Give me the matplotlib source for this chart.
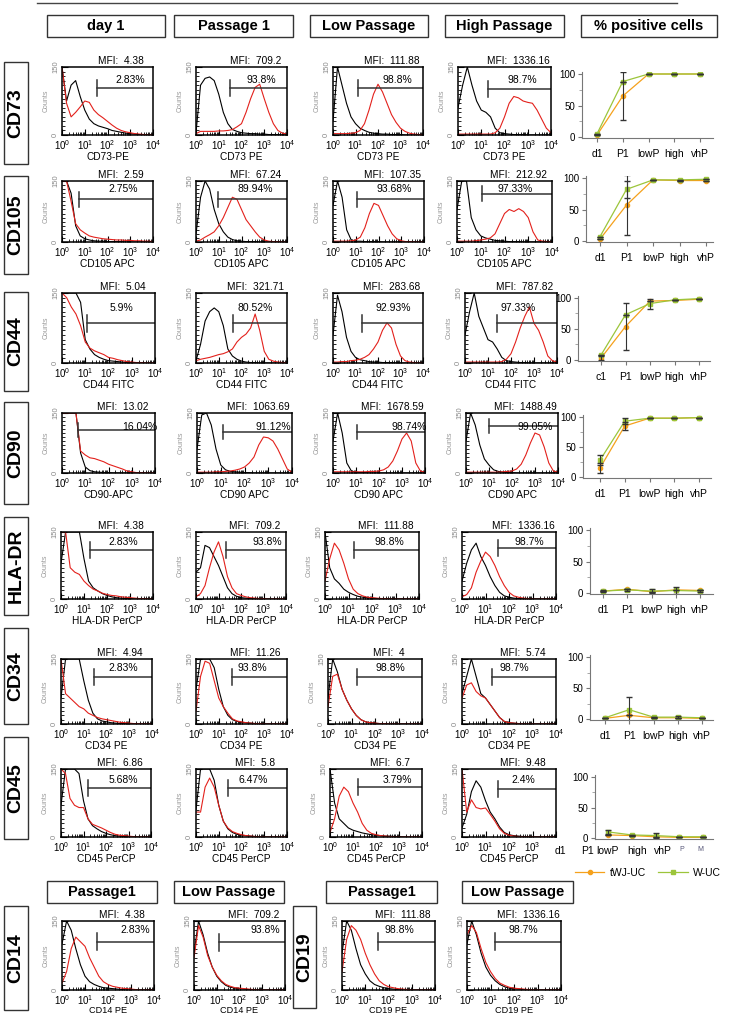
import numpy as np
import matplotlib.pyplot as plt
from matplotlib.patches import Rectangle
from matplotlib.lines import Line2D
from matplotlib.ticker import FixedLocator, MultipleLocator

plt.rcParams['font.family'] = ['Liberation Sans', 'DejaVu Sans']
plt.rcParams['mathtext.fontset'] = 'custom'
plt.rcParams['mathtext.rm'] = 'Liberation Sans'
plt.rcParams['mathtext.it'] = 'Liberation Sans:italic'
plt.rcParams['mathtext.bf'] = 'Liberation Sans:bold'

W, H = 732, 1015
fig = plt.figure(figsize=(W / 100, H / 100), dpi=100)

# ---------------- data ----------------
# log10 fluorescence channels of the histograms
log_fl = [0.0, 0.2, 0.4, 0.6, 0.8, 1.0, 1.2, 1.4, 1.6, 1.8, 2.0,
          2.2, 2.4, 2.6, 2.8, 3.0, 3.2, 3.4, 3.6, 3.8, 4.0]

stages = ['day 1', 'Passage 1', 'Low Passage', 'High Passage']
markers = ['CD73', 'CD105', 'CD44', 'CD90', 'HLA-DR', 'CD34', 'CD45']

# isotype control (black) counts, one list per stage
cd73_iso = [[150, 75, 110, 120, 85, 55, 35, 25, 20, 17, 14, 10, 8, 6, 4, 3, 2, 1, 1, 0, 0],
            [5, 110, 125, 128, 120, 90, 50, 25, 12, 8, 5, 4, 3, 3, 2, 2, 1, 1, 1, 0, 0],
            [30, 150, 110, 70, 40, 25, 15, 10, 6, 4, 3, 2, 2, 1, 1, 1, 0, 0, 0, 0, 0],
            [60, 110, 150, 110, 75, 55, 50, 40, 15, 5, 3, 2, 1, 1, 1, 0, 0, 0, 0, 0, 0]]
cd105_iso = [[150, 150, 120, 40, 15, 8, 5, 3, 2, 2, 1, 1, 1, 1, 0, 0, 0, 0, 0, 0, 0],
             [20, 110, 150, 130, 80, 45, 25, 12, 6, 3, 2, 1, 1, 1, 0, 0, 0, 0, 0, 0, 0],
             [90, 150, 110, 30, 5, 2, 2, 1, 1, 1, 1, 0, 0, 0, 0, 0, 0, 0, 0, 0, 0],
             [80, 150, 150, 60, 30, 15, 10, 7, 4, 3, 2, 1, 1, 1, 0, 0, 0, 0, 0, 0, 0]]
cd44_iso = [[150, 150, 150, 150, 130, 50, 30, 18, 12, 8, 5, 4, 3, 2, 1, 1, 0, 0, 0, 0, 0],
            [5, 40, 90, 110, 118, 110, 80, 30, 15, 8, 4, 2, 1, 1, 0, 0, 0, 0, 0, 0, 0],
            [60, 145, 110, 55, 25, 12, 7, 5, 3, 2, 2, 1, 1, 1, 0, 0, 0, 0, 0, 0, 0],
            [60, 110, 150, 100, 75, 50, 45, 30, 12, 5, 3, 2, 1, 1, 0, 0, 0, 0, 0, 0, 0]]
cd90_iso = [[150, 150, 150, 150, 50, 15, 6, 3, 2, 1, 1, 0, 0, 0, 0, 0, 0, 0, 0, 0, 0],
            [60, 145, 150, 120, 60, 20, 8, 4, 3, 2, 1, 1, 0, 0, 0, 0, 0, 0, 0, 0, 0],
            [80, 150, 100, 25, 5, 2, 1, 1, 0, 0, 0, 0, 0, 0, 0, 0, 0, 0, 0, 0, 0],
            [80, 150, 120, 70, 35, 20, 8, 4, 2, 1, 1, 0, 0, 0, 0, 0, 0, 0, 0, 0, 0]]
hla_iso = [[80, 150, 150, 150, 150, 90, 40, 25, 18, 12, 8, 5, 3, 2, 1, 1, 0, 0, 0, 0, 0],
           [60, 70, 120, 115, 95, 75, 50, 25, 12, 6, 3, 2, 1, 1, 0, 0, 0, 0, 0, 0, 0],
           [150, 70, 45, 35, 22, 15, 10, 6, 4, 3, 2, 1, 1, 1, 0, 0, 0, 0, 0, 0, 0],
           [40, 80, 110, 125, 95, 75, 50, 30, 15, 7, 4, 2, 1, 1, 0, 0, 0, 0, 0, 0, 0]]
cd34_iso = [[60, 150, 150, 150, 150, 100, 55, 25, 12, 7, 5, 3, 2, 1, 1, 0, 0, 0, 0, 0, 0],
            [80, 150, 150, 150, 130, 80, 40, 20, 10, 6, 4, 3, 2, 1, 1, 0, 0, 0, 0, 0, 0],
            [60, 150, 120, 80, 55, 35, 20, 10, 5, 3, 2, 1, 1, 0, 0, 0, 0, 0, 0, 0, 0],
            [70, 110, 150, 110, 70, 60, 45, 30, 15, 6, 3, 2, 1, 0, 0, 0, 0, 0, 0, 0, 0]]
cd45_iso = [[70, 150, 150, 150, 140, 80, 40, 25, 18, 12, 8, 5, 3, 2, 1, 0, 0, 0, 0, 0, 0],
            [60, 150, 150, 150, 125, 70, 35, 18, 10, 6, 4, 3, 2, 1, 0, 0, 0, 0, 0, 0, 0],
            [150, 75, 40, 30, 20, 15, 12, 9, 7, 5, 4, 3, 2, 2, 1, 1, 0, 0, 0, 0, 0],
            [20, 50, 100, 124, 110, 80, 55, 40, 22, 10, 5, 3, 2, 1, 0, 0, 0, 0, 0, 0, 0]]

# stained sample (red) counts
cd73_stain = [[150, 70, 40, 50, 62, 75, 72, 55, 45, 38, 30, 22, 15, 10, 7, 5, 3, 2, 1, 0, 0],
              [3, 8, 8, 8, 8, 9, 9, 10, 12, 18, 25, 50, 80, 105, 112, 80, 50, 25, 10, 4, 2],
              [3, 3, 3, 3, 4, 5, 10, 25, 55, 90, 112, 95, 70, 45, 28, 15, 8, 4, 2, 1, 0],
              [2, 2, 2, 2, 2, 2, 2, 2, 5, 15, 40, 70, 85, 82, 75, 72, 70, 55, 35, 15, 5]]
cd105_stain = [[150, 150, 100, 45, 30, 22, 15, 12, 10, 8, 7, 6, 5, 5, 4, 4, 3, 3, 2, 2, 1],
               [2, 5, 12, 18, 25, 40, 60, 85, 110, 105, 80, 55, 40, 25, 12, 5, 2, 1, 1, 0, 0],
               [2, 2, 2, 2, 3, 5, 12, 35, 70, 95, 90, 65, 40, 20, 8, 3, 1, 1, 0, 0, 0],
               [2, 2, 2, 2, 3, 5, 7, 10, 20, 45, 70, 80, 75, 82, 75, 60, 25, 5, 2, 1, 1]]
cd44_stain = [[150, 140, 120, 105, 80, 45, 32, 26, 22, 18, 12, 10, 7, 5, 3, 2, 1, 1, 0, 0, 0],
              [5, 8, 10, 12, 15, 18, 20, 24, 30, 45, 55, 62, 75, 105, 70, 25, 8, 4, 2, 1, 1],
              [2, 2, 3, 3, 5, 6, 8, 12, 18, 30, 45, 70, 86, 75, 40, 15, 5, 2, 1, 0, 0],
              [2, 2, 2, 2, 2, 2, 2, 2, 3, 8, 20, 45, 75, 100, 120, 85, 70, 45, 15, 5, 2]]
cd90_stain = [[150, 150, 150, 150, 55, 45, 38, 36, 32, 28, 22, 18, 14, 10, 5, 3, 1, 1, 0, 0, 0],
              [2, 2, 2, 2, 3, 3, 4, 5, 7, 10, 15, 25, 40, 70, 90, 88, 80, 60, 35, 10, 2],
              [3, 3, 3, 3, 3, 3, 3, 3, 4, 4, 5, 8, 15, 30, 55, 85, 100, 80, 25, 5, 2],
              [2, 2, 2, 2, 2, 2, 2, 2, 3, 4, 5, 10, 22, 45, 75, 100, 95, 65, 25, 5, 2]]
hla_stain = [[150, 150, 70, 60, 55, 40, 30, 22, 18, 13, 10, 8, 7, 5, 4, 3, 2, 1, 1, 0, 0],
             [5, 12, 30, 70, 105, 128, 95, 50, 25, 12, 8, 5, 3, 2, 1, 1, 0, 0, 0, 0, 0],
             [40, 90, 125, 110, 80, 45, 22, 12, 7, 4, 3, 2, 1, 1, 0, 0, 0, 0, 0, 0, 0],
             [5, 10, 25, 60, 85, 105, 95, 75, 50, 30, 15, 7, 4, 2, 1, 0, 0, 0, 0, 0, 0]]
cd34_stain = [[150, 70, 60, 50, 40, 35, 25, 20, 15, 12, 10, 8, 6, 4, 3, 2, 1, 1, 0, 0, 0],
              [30, 110, 145, 140, 100, 60, 40, 25, 12, 7, 5, 3, 2, 1, 1, 0, 0, 0, 0, 0, 0],
              [40, 110, 115, 80, 55, 35, 20, 10, 5, 3, 2, 1, 1, 0, 0, 0, 0, 0, 0, 0, 0],
              [60, 90, 95, 75, 65, 60, 45, 30, 15, 6, 3, 2, 1, 0, 0, 0, 0, 0, 0, 0, 0]]
cd45_stain = [[150, 140, 85, 70, 65, 65, 40, 28, 24, 20, 15, 10, 6, 4, 3, 2, 1, 0, 0, 0, 0],
              [55, 55, 110, 130, 110, 70, 35, 20, 12, 8, 5, 3, 2, 1, 0, 0, 0, 0, 0, 0, 0],
              [10, 40, 90, 110, 100, 75, 55, 30, 15, 8, 5, 3, 2, 1, 0, 0, 0, 0, 0, 0, 0],
              [150, 55, 82, 65, 62, 64, 50, 35, 18, 8, 4, 2, 1, 0, 0, 0, 0, 0, 0, 0, 0]]

# bottom row: CD14 and CD19 (Passage1, Low Passage)
cd14_iso = [[100, 150, 130, 90, 55, 30, 18, 12, 8, 5, 4, 3, 2, 1, 0, 0, 0, 0, 0, 0, 0],
            [80, 150, 120, 80, 50, 30, 18, 10, 6, 4, 3, 2, 1, 0, 0, 0, 0, 0, 0, 0, 0]]
cd14_stain = [[15, 40, 90, 115, 105, 95, 70, 50, 30, 18, 12, 8, 6, 4, 3, 2, 1, 0, 0, 0, 0],
              [70, 140, 115, 75, 50, 32, 20, 12, 8, 5, 4, 3, 2, 1, 0, 0, 0, 0, 0, 0, 0]]
cd19_iso = [[80, 150, 130, 90, 55, 35, 20, 12, 8, 5, 3, 2, 1, 0, 0, 0, 0, 0, 0, 0, 0],
            [100, 150, 120, 80, 50, 32, 20, 12, 7, 4, 3, 2, 1, 0, 0, 0, 0, 0, 0, 0, 0]]
cd19_stain = [[40, 110, 140, 130, 110, 80, 55, 35, 20, 12, 7, 5, 3, 2, 1, 0, 0, 0, 0, 0, 0],
              [120, 140, 125, 90, 60, 40, 25, 15, 10, 6, 4, 3, 2, 1, 0, 0, 0, 0, 0, 0, 0]]

mfi = [['4.38', '709.2', '111.88', '1336.16'],
       ['2.59', '67.24', '107.35', '212.92'],
       ['5.04', '321.71', '283.68', '787.82'],
       ['13.02', '1063.69', '1678.59', '1488.49'],
       ['4.38', '709.2', '111.88', '1336.16'],
       ['4.94', '11.26', '4', '5.74'],
       ['6.86', '5.8', '6.7', '9.48']]
pct = [['2.83%', '93.8%', '98.8%', '98.7%'],
       ['2.75%', '89.94%', '93.68%', '97.33%'],
       ['5.9%', '80.52%', '92.93%', '97.33%'],
       ['16.04%', '91.12%', '98.74%', '99.05%'],
       ['2.83%', '93.8%', '98.8%', '98.7%'],
       ['2.83%', '93.8%', '98.8%', '98.7%'],
       ['5.68%', '6.47%', '3.79%', '2.4%']]
gates = [[1.54, 1.5, 1.1, 1.29],
         [0.75, 0.97, 1.07, 1.05],
         [1.07, 1.63, 1.29, 1.39],
         [0.69, 1.1, 1.05, 1.0],
         [1.26, 1.33, 1.23, 1.53],
         [1.45, 1.58, 1.23, 1.28],
         [1.2, 1.41, 1.2, 1.53]]
xlabels = [['CD73-PE', 'CD73 PE', 'CD73 PE', 'CD73 PE'],
           ['CD105 APC'] * 4,
           ['CD44 FITC'] * 4,
           ['CD90-APC', 'CD90 APC', 'CD90 APC', 'CD90 APC'],
           ['HLA-DR PerCP'] * 4,
           ['CD34 PE'] * 4,
           ['CD45 PerCP'] * 4]
bottom_mfi = ['4.38', '709.2', '111.88', '1336.16']
bottom_pct = ['2.83%', '93.8%', '98.8%', '98.7%']
bottom_gates = [1.52, 1.1, 1.55, 1.19]
bottom_xlabels = ['CD14 PE', 'CD14 PE', 'CD19 PE', 'CD19 PE']

# % positive cells
cats = ['d1', 'P1', 'lowP', 'high', 'vhP']
w_uc = [[5, 88, 100, 100, 100], [7, 82, 97, 97, 98], [8, 73, 91, 97, 99],
        [28, 93, 98, 98, 99], [3, 5, 3, 4, 3], [2, 15, 3, 3, 2], [10, 5, 4, 2, 2]]
w_uc_err = [[0, 0, 0, 0, 0], [0, 14, 0, 0, 0], [0, 0, 8, 0, 0],
            [8, 5, 0, 0, 0], [2, 2, 3, 5, 2], [0, 20, 0, 2, 0], [3, 0, 4, 0, 0]]
twj_uc = [[3, 65, 100, 100, 100], [3, 57, 97, 96, 96], [3, 54, 95, 96, 98],
          [15, 85, 98, 98, 99], [3, 6, 2, 5, 4], [1, 6, 2, 2, 1], [5, 4, 2, 1, 1]]
twj_uc_err = [[0, 38, 0, 0, 0], [0, 47, 0, 0, 0], [3, 38, 0, 0, 0],
              [8, 6, 0, 0, 0], [0, 0, 0, 0, 0], [0, 0, 0, 0, 0], [0, 0, 0, 0, 0]]
cd45_ticklabels = ['d1', 'P1', 'lowP', 'high', 'vhP', 'P', 'M']

# ---------------- layout (pixels) ----------------
hist_rows = [(67, 135, [(62, 153), (196, 287), (333, 423), (458, 551)]),
             (181, 242, [(62, 153), (196, 287), (333, 424), (457, 552)]),
             (293, 363, [(62, 155), (196, 287), (333, 423), (465, 557)]),
             (413, 473, [(62, 155), (197, 292), (333, 425), (466, 558)]),
             (532, 599, [(61, 153), (196, 286), (325, 419), (462, 556)]),
             (659, 724, [(61, 152), (196, 287), (328, 422), (462, 556)]),
             (769, 837, [(61, 151), (196, 287), (330, 422), (462, 556)])]
bar_y = [[0.69, 0.69, 0.69, 0.68], [0.70, 0.70, 0.70, 0.79], [0.57] * 4,
         [0.72, 0.68, 0.68, 0.78], [0.73, 0.73, 0.73, 0.76], [0.72] * 4,
         [0.72, 0.72, 0.74, 0.71]]
pct_x = [[0.75, 0.72, 0.71, 0.69], [0.67, 0.65, 0.67, 0.61], [0.64, 0.65, 0.67, 0.58],
         [0.84, 0.80, 0.83, 0.75], [0.68, 0.79, 0.69, 0.72], [0.68, 0.62, 0.66, 0.56],
         [0.69, 0.63, 0.73, 0.65]]
pct_y = [0.81, 0.87, 0.79, 0.77, 0.85, 0.86, 0.84]
bottom_geo = (921, 990, [(62, 154), (194, 285), (342, 435), (467, 561)])
bottom_bar_y = [0.70, 0.69, 0.70, 0.70]
bottom_pct_x = [0.80, 0.78, 0.62, 0.60]

# chart geometry: x0, x1, y of 100, y of 0, x of d1, x of vhP
chart_geo = [(582, 713, 74, 137, 597, 700), (586, 713, 178, 241, 600, 706),
             (578, 710, 298, 360, 601, 699), (583, 711, 417, 477, 600, 699),
             (590, 713, 530, 593, 603, 700), (590, 713, 657, 719, 605, 702),
             (595, 713, 777, 838, 608, 703)]
cd45_label_px = [560, 587, 607, 637, 663, 682, 700]

RED = '#e3211c'
ORANGE = '#f5a11c'
GREEN = '#9cc53b'
EDGE = '#333333'


def add_px_axes(x0, y0, x1, y1):
    return fig.add_axes([x0 / W, 1 - y1 / H, (x1 - x0) / W, (y1 - y0) / H])


def box(x0, y0, x1, y1, text, size, rot=0):
    fig.patches.append(Rectangle((x0 / W, 1 - y1 / H), (x1 - x0) / W, (y1 - y0) / H,
                                 transform=fig.transFigure, fill=False, ec=EDGE, lw=1))
    fig.text((x0 + x1) / 2 / W, 1 - (y0 + y1) / 2 / H, text, ha='center', va='center',
             fontsize=size, fontweight='bold', rotation=rot)


def draw_hist(x0, x1, y0, y1, black, red, gate, by, ptxt, px, py, mfi_txt, xlab,
              last_tick=True, xlab_size=7.3, xlab_pad=0.5):
    ax = add_px_axes(x0, y0, x1, y1)
    ax.plot(log_fl, black, color='black', lw=0.8)
    ax.plot(log_fl, red, color=RED, lw=0.8)
    ax.set_xlim(0, 4)
    ax.set_ylim(0, 150)
    ax.set_xticks(range(5))
    labs = [r'$10^{%d}$' % k for k in range(5)]
    if not last_tick:
        labs[-1] = ''
    ax.set_xticklabels(labs)
    ax.xaxis.set_minor_locator(FixedLocator([k + np.log10(m) for k in range(4)
                                             for m in range(2, 10)]))
    ax.set_yticks([0, 150])
    ax.set_yticklabels(['0', '150'], rotation=90, va='center', fontsize=5.5, color='#888')
    ax.yaxis.set_minor_locator(MultipleLocator(10))
    ax.tick_params(which='both', direction='in')
    ax.tick_params(which='major', length=4, width=0.8)
    ax.tick_params(which='minor', length=2.5, width=0.6)
    ax.tick_params(axis='x', labelsize=7, pad=2)
    ax.tick_params(axis='y', pad=2)
    ax.set_ylabel('Counts', fontsize=5, color='#999', labelpad=2)
    ax.set_xlabel(xlab, fontsize=xlab_size, labelpad=xlab_pad)
    for s in ax.spines.values():
        s.set_linewidth(1.1)
    yb = by * 150
    ax.plot([gate, 4], [yb, yb], color=EDGE, lw=1.1)
    ax.plot([gate, gate], [yb - 18, yb + 18], color=EDGE, lw=1.1)
    ax.text(px, py, ptxt, transform=ax.transAxes, ha='center', va='center', fontsize=7.5)
    ax.text(0.65, 1.015, 'MFI:  ' + mfi_txt, transform=ax.transAxes, ha='center',
            va='bottom', fontsize=7.3)
    return ax


def draw_chart(geo, w, t, we, te, labels):
    x0, x1, y100, y0, d1x, vhx = geo
    s = (y0 - y100) / 100
    ax = add_px_axes(x0, y100 - 3 * s, x1, y0 + 2 * s)
    sp = (vhx - d1x) / 4
    x = np.arange(len(cats))
    l1, = ax.plot(x, t, color=ORANGE, marker='o', ms=3, lw=0.9)
    l2, = ax.plot(x, w, color=GREEN, marker='s', ms=2.6, lw=0.9)
    ax.errorbar(x, t, yerr=te, fmt='none', ecolor=EDGE, elinewidth=0.8, capsize=2)
    ax.errorbar(x, w, yerr=we, fmt='none', ecolor=EDGE, elinewidth=0.8, capsize=2)
    ax.set_xlim((x0 - d1x) / sp, (x1 - d1x) / sp)
    ax.set_ylim(-2, 103)
    ax.set_yticks([0, 50, 100])
    ax.yaxis.set_minor_locator(FixedLocator([25, 75]))
    ax.tick_params(axis='y', labelsize=7, length=3, pad=2, color='#777')
    ax.tick_params(axis='y', which='minor', length=2, color='#999')
    ax.spines['top'].set_visible(False)
    ax.spines['right'].set_visible(False)
    ax.spines['left'].set_color('#777')
    ax.spines['bottom'].set_color('#777')
    if labels is None:
        ax.set_xticks([])
    else:
        ax.set_xticks(x)
        ax.set_xticklabels(labels)
        ax.tick_params(axis='x', labelsize=7.5, length=3, pad=5, color='#777')
    return ax, sp, d1x, l1, l2


# ---------------- draw ----------------
fig.add_artist(Line2D([37 / W, 677 / W], [1 - 3 / H] * 2, color='#444', lw=1))

for (xs, name) in zip([(47, 165), (174, 293), (310, 428), (445, 564), (581, 717)],
                      stages + ['% positive cells']):
    box(xs[0], 15, xs[1], 37, name, 10.5)

row_boxes = [(62, 164), (176, 274), (292, 391), (402, 504), (517, 615), (628, 724), (737, 839)]
for (yb0, yb1), name in zip(row_boxes, markers):
    box(4, yb0, 28, yb1, name, 14, rot=90)

iso_all = [cd73_iso, cd105_iso, cd44_iso, cd90_iso, hla_iso, cd34_iso, cd45_iso]
stain_all = [cd73_stain, cd105_stain, cd44_stain, cd90_stain, hla_stain, cd34_stain,
             cd45_stain]
for r in range(len(markers)):
    y0, y1, xs = hist_rows[r]
    for c in range(4):
        draw_hist(xs[c][0], xs[c][1], y0, y1, iso_all[r][c], stain_all[r][c],
                  gates[r][c], bar_y[r][c], pct[r][c], pct_x[r][c], pct_y[r],
                  mfi[r][c], xlabels[r][c], last_tick=not (r == 6 and c == 3))

# bottom row
for (xs, name) in zip([(47, 157), (174, 284), (326, 437), (462, 573)],
                      ['Passage1', 'Low Passage', 'Passage1', 'Low Passage']):
    box(xs[0], 881, xs[1], 903, name, 10.5)
box(4, 906, 28, 1010, 'CD14', 14, rot=90)
box(293, 906, 316, 1008, 'CD19', 14, rot=90)
y0, y1, xs = bottom_geo
b_iso = cd14_iso + cd19_iso
b_stain = cd14_stain + cd19_stain
for c in range(4):
    draw_hist(xs[c][0], xs[c][1], y0, y1, b_iso[c], b_stain[c], bottom_gates[c],
              bottom_bar_y[c], bottom_pct[c], bottom_pct_x[c], 0.87, bottom_mfi[c],
              bottom_xlabels[c], xlab_size=6.6, xlab_pad=-0.5)

# % positive cells charts
chart_labels = [cats, cats, ['c1'] + cats[1:], cats, cats, cats, None]
for r in range(len(markers)):
    ax, sp, d1x, l1, l2 = draw_chart(chart_geo[r], w_uc[r], twj_uc[r], w_uc_err[r],
                                     twj_uc_err[r], chart_labels[r])
    if chart_labels[r] is None:
        for lab, lx in zip(cd45_ticklabels, cd45_label_px):
            small = lab in ('P', 'M')
            ax.text((lx - d1x) / sp, -0.1, lab, transform=ax.get_xaxis_transform(),
                    ha='center', va='top', fontsize=5 if small else 7.5,
                    color='#557' if small else 'black', clip_on=False)

fig.legend([l1, l2], ['tWJ-UC', 'W-UC'], ncol=2, loc='center',
           bbox_to_anchor=(648 / W, 1 - 873 / H), frameon=False, fontsize=7.5,
           handlelength=2.8, columnspacing=1.2, handletextpad=0.5, borderpad=0)

fig.savefig('out.png', dpi=100)
